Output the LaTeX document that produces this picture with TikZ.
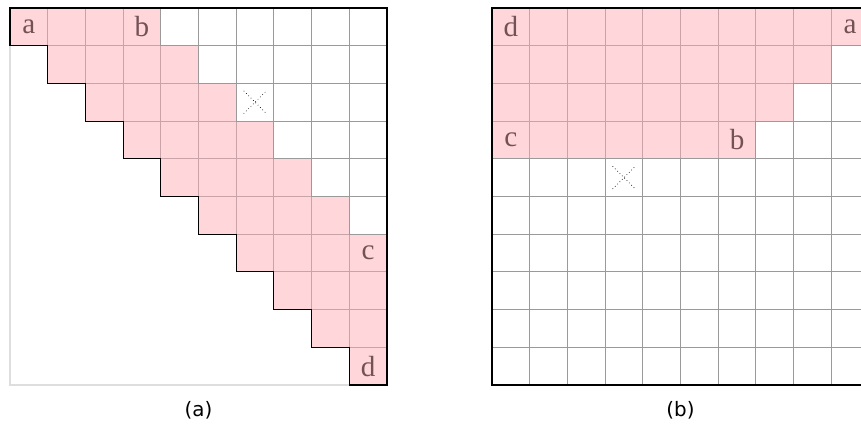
\documentclass[tikz,border=0pt]{standalone}
\usepackage{fontspec}
\newfontfamily\capfont{DejaVu Sans}
\newfontfamily\lblfont{Liberation Serif}
\usetikzlibrary{positioning}
\definecolor{cellpink}{HTML}{FFD7DA}
\definecolor{pinkline}{HTML}{C9A3A7}
\definecolor{gridline}{HTML}{9A9A9A}
\definecolor{lblbrown}{HTML}{735256}
\tikzset{
  cell-p/.style={fill=cellpink,draw=pinkline,line width=0.6pt},
  cell-w/.style={fill=white,draw=gridline,line width=0.6pt},
  frame/.style={draw=black,line width=0.8pt},
  frame-light/.style={draw=black!13,line width=0.8pt},
  lbl/.style={text=lblbrown,font=\lblfont\fontsize{22}{25}\selectfont,inner sep=0pt},
  caption/.style={font=\capfont\fontsize{15}{18}\selectfont},
  cross/.style={dotted,line width=0.5pt},
}

\begin{document}
\begin{tikzpicture}
  \useasboundingbox (-0.265,-1.167) rectangle (22.573,10.212);

  % (a) staircase band
  \draw[frame-light] (0,0) rectangle (10,10);
  \foreach \i in {0,...,9}{
    \foreach \j in {\i,...,9}{
      \pgfmathtruncatemacro\k{\j-\i}
      \ifnum\k<4 \path[cell-p] (\j,9-\i) rectangle ++(1,1); \fi
    }
  }
  \foreach \i in {0,...,5}{
    \pgfmathtruncatemacro\s{\i+4}
    \foreach \j in {\s,...,9}{
      \path[cell-w] (\j,9-\i) rectangle ++(1,1);
    }
  }
  \draw[frame] (0,9) -- (0,10) -- (10,10) -- (10,0) -- (9,0)
    foreach \s in {1,...,9}{ -- (10-\s,\s) -- (9-\s,\s) } -- cycle;
  \draw[cross] (6.2,7.2) -- (6.8,7.8) (6.2,7.8) -- (6.8,7.2);
  \node[lbl] (a-a) at (0.5,9.5) {a};
  \node[lbl] (a-b) at (3.5,9.5) {b};
  \node[lbl] (a-c) at (9.5,3.5) {c};
  \node[lbl] (a-d) at (9.5,0.5) {d};
  \node[caption] (cap-a) at (5,-0.66) {(a)};

  % (b) block at the top
  \begin{scope}[xshift=12.785cm]
    \foreach \i in {0,...,3}{
      \pgfmathtruncatemacro\e{9-\i}
      \foreach \j in {0,...,\e}{
        \path[cell-p] (\j,9-\i) rectangle ++(1,1);
      }
    }
    \foreach \i in {1,...,3}{
      \pgfmathtruncatemacro\s{10-\i}
      \foreach \j in {\s,...,9}{
        \path[cell-w] (\j,9-\i) rectangle ++(1,1);
      }
    }
    \foreach \i in {4,...,9}{
      \foreach \j in {0,...,9}{
        \path[cell-w] (\j,9-\i) rectangle ++(1,1);
      }
    }
    \draw[frame] (0,0) rectangle (10,10);
    \draw[cross] (3.2,5.2) -- (3.8,5.8) (3.2,5.8) -- (3.8,5.2);
    \node[lbl] (b-d) at (0.5,9.5) {d};
    \node[lbl] (b-a) at (9.5,9.5) {a};
    \node[lbl] (b-c) at (0.5,6.5) {c};
    \node[lbl] (b-b) at (6.5,6.5) {b};
    \node[caption] (cap-b) at (5,-0.66) {(b)};
  \end{scope}
\end{tikzpicture}
\end{document}
